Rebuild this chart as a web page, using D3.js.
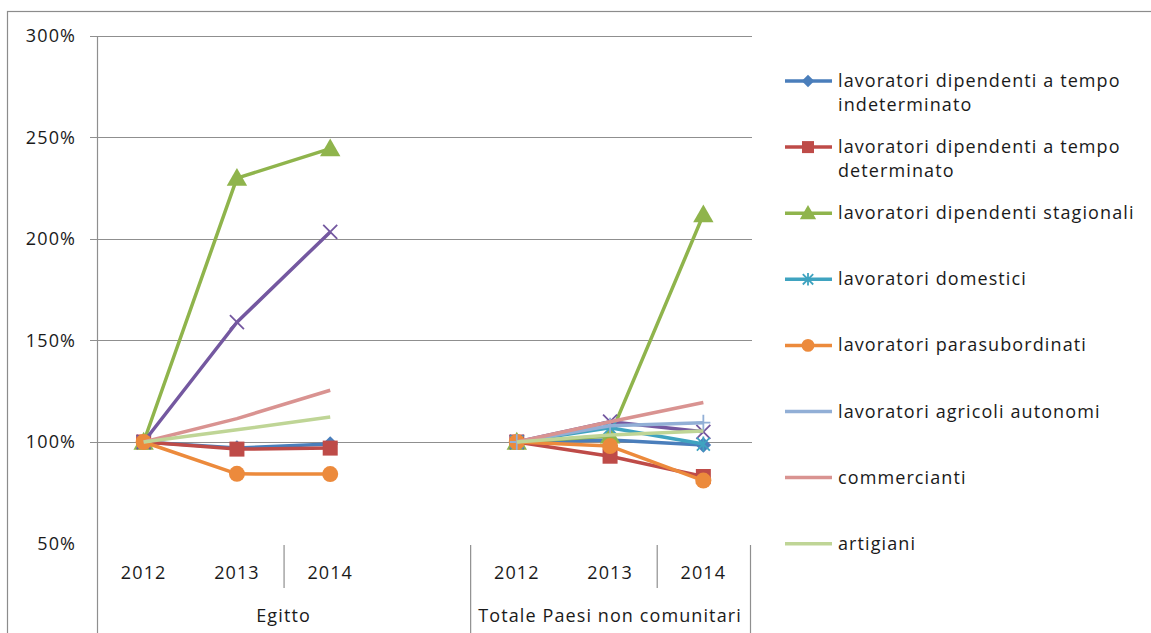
<!DOCTYPE html>
<html>
<head>
<meta charset="utf-8">
<script src="https://cdn.jsdelivr.net/npm/d3@7"></script>
<style>
  body { margin: 0; background: #fff; }
  text { font-family: "Open Sans", sans-serif; fill: #1a1a1a; letter-spacing: 1.1px; }
</style>
</head>
<body>
<div id="chart"></div>
<script>
const years = ["2012", "2013", "2014"];
const groups = ["Egitto", "Totale Paesi non comunitari"];
const yTicks = [0.5, 1, 1.5, 2, 2.5, 3];

// each array: Egitto 2012-2014, then Totale 2012-2014 (2012 = 100%)
const indeterminato   = [1.00, 0.97, 0.99, 1.00, 1.01, 0.985];
const determinato     = [1.00, 0.965, 0.97, 1.00, 0.93, 0.83];
const stagionali      = [1.00, 2.30, 2.445, 1.00, 1.03, 2.12];
const nonInLegenda    = [1.00, 1.59, 2.035, 1.00, 1.10, 1.05];
const domestici       = [null, null, null, 1.00, 1.07, 0.99];
const parasubordinati = [1.00, 0.843, 0.842, 1.00, 0.98, 0.81];
const agricoli        = [null, null, null, 1.00, 1.08, 1.095];
const commercianti    = [1.00, 1.115, 1.255, 1.00, 1.10, 1.195];
const artigiani       = [1.00, 1.06, 1.123, 1.00, 1.035, 1.054];

const series = [
  {lines: ["lavoratori dipendenti a tempo", "indeterminato"], values: indeterminato, color: "#4a7ebb", marker: "diamond", legend: true},
  {lines: ["lavoratori dipendenti a tempo", "determinato"], values: determinato, color: "#be4b48", marker: "square", legend: true},
  {lines: ["lavoratori dipendenti stagionali"], values: stagionali, color: "#8fb44c", marker: "triangle", legend: true},
  {lines: [""], values: nonInLegenda, color: "#7458a0", marker: "x", legend: false},
  {lines: ["lavoratori domestici"], values: domestici, color: "#3fa3c0", marker: "star", legend: true},
  {lines: ["lavoratori parasubordinati"], values: parasubordinati, color: "#ec8a3c", marker: "circle", legend: true},
  {lines: ["lavoratori agricoli autonomi"], values: agricoli, color: "#92afd6", marker: "plus", legend: true},
  {lines: ["commercianti"], values: commercianti, color: "#d99391", marker: null, legend: true},
  {lines: ["artigiani"], values: artigiani, color: "#bfd596", marker: null, legend: true}
];

const W = 1151, H = 633;
const plot = {left: 97, right: 750, top: 36, bottom: 543.5};
const fs = 18;

const svg = d3.select("#chart").append("svg")
  .attr("width", W).attr("height", H);

// outer frame of the chart object
svg.append("rect")
  .attr("x", 7.5).attr("y", 11.5).attr("width", W + 10).attr("height", H + 10)
  .attr("fill", "none").attr("stroke", "#8c8c8c").attr("stroke-width", 1.2);

// slots: 3 years per group, with an empty slot after Egitto
const slots = [];
groups.forEach((g, gi) => {
  years.forEach(yr => slots.push(g + "|" + yr));
  if (gi === 0) slots.push("gap");
});

const x = d3.scaleBand().domain(slots).range([plot.left, plot.right]);
const y = d3.scaleLinear().domain([0.5, 3]).range([plot.bottom, plot.top]);
const bw = x.bandwidth();

// gridlines + y labels
svg.append("g").selectAll("line")
  .data(yTicks.filter(t => t > 0.5))
  .join("line")
  .attr("x1", plot.left - 7).attr("x2", plot.right + 2)
  .attr("y1", d => Math.round(y(d)) + 0.5).attr("y2", d => Math.round(y(d)) + 0.5)
  .attr("stroke", "#8f8f8f").attr("stroke-width", 1.2);

svg.append("g").selectAll("text")
  .data(yTicks)
  .join("text")
  .attr("x", 76).attr("y", d => y(d) + 6)
  .attr("text-anchor", "end")
  .attr("font-size", fs)
  .text(d3.format(".0%"));

// left axis line
svg.append("line")
  .attr("x1", plot.left + 0.5).attr("x2", plot.left + 0.5)
  .attr("y1", plot.top).attr("y2", H)
  .attr("stroke", "#8f8f8f").attr("stroke-width", 1.2);

// category axis separators
const axisTop = 545;
groups.forEach(g => {
  const xs = x(g + "|2014");
  svg.append("line")
    .attr("x1", xs + 0.5).attr("x2", xs + 0.5)
    .attr("y1", axisTop).attr("y2", 588)
    .attr("stroke", "#8f8f8f").attr("stroke-width", 1.2);
});
[x(groups[1] + "|2012"), plot.right].forEach(xs => {
  svg.append("line")
    .attr("x1", xs + 0.5).attr("x2", xs + 0.5)
    .attr("y1", axisTop).attr("y2", H)
    .attr("stroke", "#8f8f8f").attr("stroke-width", 1.2);
});

// year labels
svg.append("g").selectAll("text")
  .data(slots.filter(s => s !== "gap"))
  .join("text")
  .attr("x", d => x(d) + bw / 2).attr("y", 579)
  .attr("text-anchor", "middle").attr("font-size", fs)
  .text(d => d.split("|")[1]);

// group labels
groups.forEach((g, gi) => {
  const x0 = x(g + "|2012");
  const x1 = gi < groups.length - 1 ? x(groups[gi + 1] + "|2012") : plot.right;
  svg.append("text")
    .attr("x", (x0 + x1) / 2).attr("y", 622)
    .attr("text-anchor", "middle").attr("font-size", fs)
    .text(g);
});

// marker drawing
function drawMarker(sel, type, color, s) {
  if (!type) return;
  if (type === "diamond") {
    sel.append("path").attr("d", `M0,${-s * 0.6}L${s * 0.6},0L0,${s * 0.6}L${-s * 0.6},0Z`).attr("fill", color);
  } else if (type === "square") {
    sel.append("rect").attr("x", -s / 2).attr("y", -s / 2).attr("width", s).attr("height", s).attr("fill", color);
  } else if (type === "triangle") {
    sel.append("path").attr("d", `M0,${-s * 0.6}L${s * 0.6},${s * 0.45}L${-s * 0.6},${s * 0.45}Z`).attr("fill", color);
  } else if (type === "circle") {
    sel.append("circle").attr("r", s / 2).attr("fill", color);
  } else if (type === "x" || type === "star" || type === "plus") {
    const h = s / 2;
    let d = "";
    if (type !== "plus") d += `M${-h},${-h}L${h},${h}M${-h},${h}L${h},${-h}`;
    if (type !== "x") d += `M0,${-h - 1}L0,${h + 1}`;
    if (type === "plus") d += `M${-h},0L${h},0`;
    sel.append("path").attr("d", d).attr("fill", "none").attr("stroke", color).attr("stroke-width", 1.8);
  }
}

const line = d3.line().x(d => d.x).y(d => y(d.v));

const markerSize = {diamond: 13, square: 15, triangle: 17, x: 14, star: 13, circle: 16, plus: 14};

const gLines = svg.append("g");
series.forEach(s => {
  const g = gLines.append("g");
  groups.forEach((grp, gi) => {
    const pts = years.map((yr, i) => ({x: x(grp + "|" + yr) + bw / 2, v: s.values[gi * 3 + i]}))
      .filter(p => p.v != null);
    if (!pts.length) return;
    g.append("path").datum(pts)
      .attr("d", line)
      .attr("fill", "none").attr("stroke", s.color)
      .attr("stroke-width", 3.5).attr("stroke-linejoin", "round");
    pts.forEach(p => {
      const m = g.append("g").attr("transform", `translate(${p.x},${y(p.v)})`);
      drawMarker(m, s.marker, s.color, markerSize[s.marker]);
    });
  });
});

// legend
const legend = svg.append("g");
const legendItems = series.filter(s => s.legend);
legendItems.forEach((s, i) => {
  const ly = 81 + i * 66.1;
  const g = legend.append("g").attr("transform", `translate(0,${ly})`);
  g.append("line").attr("x1", 785).attr("x2", 832).attr("y1", 0).attr("y2", 0)
    .attr("stroke", s.color).attr("stroke-width", 3.5);
  if (s.marker && s.marker !== "plus") {
    const m = g.append("g").attr("transform", "translate(808,0)");
    drawMarker(m, s.marker, s.color, markerSize[s.marker] * 0.8);
  }
  const t = g.append("text").attr("x", 838).attr("y", 6).attr("font-size", fs);
  s.lines.forEach((ln, li) => {
    t.append("tspan").attr("x", 838).attr("dy", li === 0 ? 0 : 24).text(ln);
  });
});
</script>
</body>
</html>
